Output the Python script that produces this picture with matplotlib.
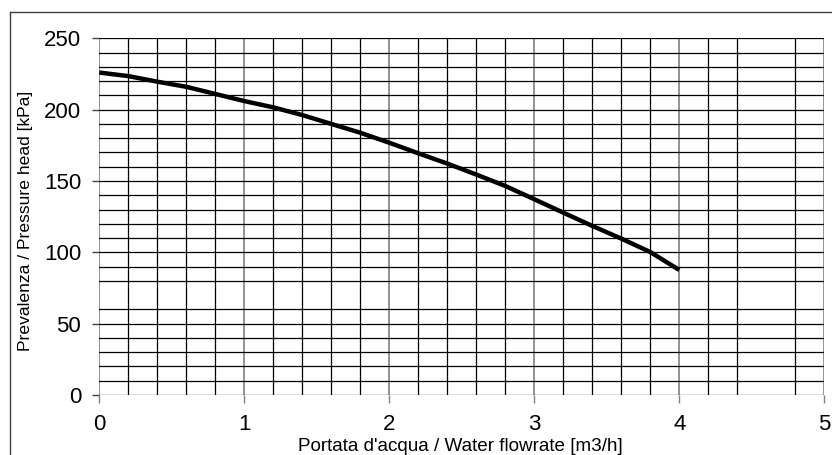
import matplotlib
matplotlib.use('Agg')
import matplotlib.pyplot as plt
from matplotlib.lines import Line2D
import numpy as np

# pump curve
flow = [0.0, 0.2, 0.4, 0.6, 0.8, 1.0, 1.2, 1.4, 1.6, 1.8, 2.0,
        2.2, 2.4, 2.6, 2.8, 3.0, 3.2, 3.4, 3.6, 3.8, 4.0]
head = [226, 223.5, 219.6, 216, 211, 206, 201.6, 196.2, 190, 183.8, 176.8,
        169.4, 162.2, 154.5, 146.5, 137.2, 127.8, 118.5, 109.6, 100.2, 87.6]

x_ticks = [0, 1, 2, 3, 4, 5]
y_ticks = [0, 50, 100, 150, 200, 250]
# minor grid (the source skips 4.6 and 70)
x_minor = [0.2, 0.4, 0.6, 0.8, 1.2, 1.4, 1.6, 1.8, 2.2, 2.4, 2.6, 2.8,
           3.2, 3.4, 3.6, 3.8, 4.2, 4.4, 4.8]
y_minor = [10, 20, 30, 40, 60, 80, 90, 110, 120, 130, 140,
           160, 170, 180, 190, 210, 220, 230, 240]

plt.rcParams['font.family'] = ['Liberation Sans', 'DejaVu Sans']

fig = plt.figure(figsize=(8.32, 4.55), dpi=100)
ax = fig.add_axes([99.3 / 832, 1 - 395 / 455, 725 / 832, 356.7 / 455])
ax.set_xlim(0, 5)
ax.set_ylim(0, 250)

# grid lines
for xv in x_minor:
    ax.axvline(xv, color='black', lw=0.9, zorder=1)
for xv in x_ticks:
    ax.axvline(xv, color='#808080', lw=1.2, zorder=1)
for yv in y_minor + y_ticks:
    ax.axhline(yv, color='black', lw=0.9, zorder=1)

ax.plot(flow, head, color='black', lw=3.2, solid_capstyle='butt', zorder=3)

for s in ax.spines.values():
    s.set_visible(False)

ax.set_xticks(x_ticks)
ax.set_yticks(y_ticks)
ax.tick_params(axis='y', length=5, width=1, color='#404040', pad=8, labelsize=16)
ax.tick_params(axis='x', length=5.5, width=1, color='#808080', pad=8, labelsize=16)

fig.text(460 / 832, 1 - 451 / 455, "Portata d'acqua / Water flowrate [m3/h]",
         ha='center', va='baseline', fontsize=13.6)
fig.text(26 / 832, 1 - 221 / 455, "Prevalenza / Pressure head [kPa]",
         ha='center', va='center', rotation=90, fontsize=12.6)

# outer frame (left and top edges visible)
fig.add_artist(Line2D([10 / 832, 10 / 832], [0, 1 - 12.3 / 455],
                      transform=fig.transFigure, color='#404040', lw=1))
fig.add_artist(Line2D([10 / 832, 1], [1 - 12.3 / 455, 1 - 12.3 / 455],
                      transform=fig.transFigure, color='#404040', lw=1))

fig.savefig('out.png', dpi=100, facecolor='white')
